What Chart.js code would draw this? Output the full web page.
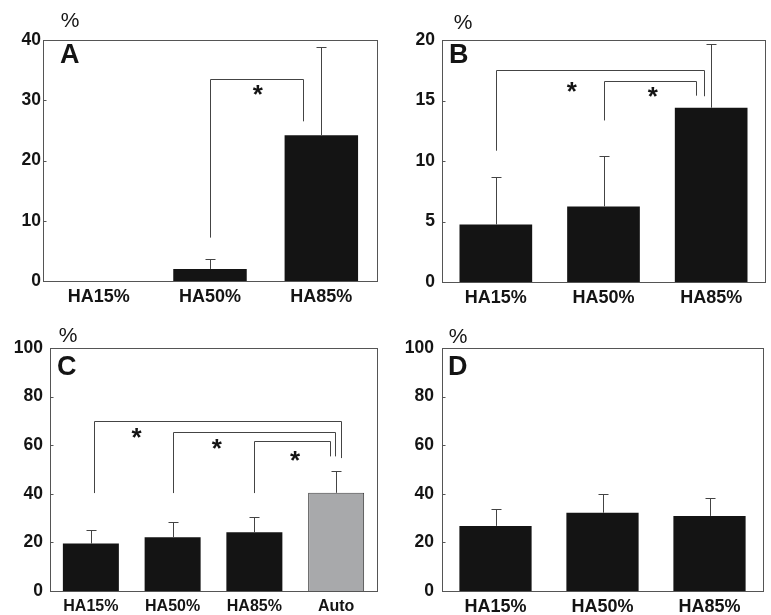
<!DOCTYPE html>
<html>
<head>
<meta charset="utf-8">
<script src="https://cdn.jsdelivr.net/npm/chart.js@4.4.1/dist/chart.umd.min.js"></script>
<style>
  body { margin: 0; background: #fff; width: 771px; height: 615px; position: relative; overflow: hidden; }
  canvas { position: absolute; }
</style>
</head>
<body>
<canvas id="chartA" width="385" height="307" style="left:0;top:0"></canvas>
<canvas id="chartB" width="386" height="307" style="left:385px;top:0"></canvas>
<canvas id="chartC" width="385" height="308" style="left:0;top:307px"></canvas>
<canvas id="chartD" width="386" height="308" style="left:385px;top:307px"></canvas>
<script>
// --- DATA ---
const cats3 = ['HA15%', 'HA50%', 'HA85%'];
const cats4 = ['HA15%', 'HA50%', 'HA85%', 'Auto'];

const valuesA = [0, 2.0, 24.2];
const errA    = [0, 1.7, 14.6];
const valuesB = [4.75, 6.25, 14.4];
const errB    = [3.95, 4.15, 5.3];
const valuesC = [19.5, 22.1, 24.2, 40.4];
const errC    = [5.7, 6.5, 6.4, 8.8];
const valuesD = [26.8, 32.2, 30.9];
const errD    = [6.9, 7.9, 7.2];

const ticksA = [0, 10, 20, 30, 40];
const ticksB = [0, 5, 10, 15, 20];
const ticksCD = [0, 20, 40, 60, 80, 100];

// significance brackets: [from category, to category, left foot, top, right foot]
const bracketsA = [[1, 1.835, 7.2, 33.5, 26.5]];
const bracketsB = [[0, 1.935, 10.85, 17.5, 15.35], [1, 1.855, 13.35, 16.65, 15.4]];
const bracketsC = [[0.04, 3.06, 40.3, 69.8, 54.7], [1, 2.99, 40.3, 65.3, 55.4], [2, 2.92, 40.3, 61.6, 55.4]];
// asterisks: [category position, value]
const starsA = [[1.43, 31.8]];
const starsB = [[0.705, 16.2], [1.458, 15.8]];
const starsC = [[0.56, 65.3], [1.54, 60.9], [2.497, 56.1]];

const FONT = "'Liberation Sans', Arial, Helvetica, sans-serif";
const INK = '#141414';
const LINE = '#444';

// --- DECORATION PLUGIN: frame, error bars, brackets, stars, labels ---
const decor = {
    id: 'decor',
    afterDatasetsDraw(chart, args, o) {
        const ctx = chart.ctx;
        const x = chart.scales.x, y = chart.scales.y;
        const area = chart.chartArea;
        ctx.save();
        ctx.strokeStyle = LINE;
        ctx.lineWidth = 1;

        // error bars (upward only, capped)
        const meta = chart.getDatasetMeta(0);
        meta.data.forEach((bar, i) => {
            const v = chart.data.datasets[0].data[i];
            const e = o.err[i];
            if (!e) return;
            const px = Math.round(bar.x) + 0.5;
            const y0 = y.getPixelForValue(v);
            const y1 = Math.round(y.getPixelForValue(v + e)) + 0.5;
            ctx.beginPath();
            ctx.moveTo(px, y0);
            ctx.lineTo(px, y1);
            ctx.moveTo(px - 5, y1);
            ctx.lineTo(px + 5, y1);
            ctx.stroke();
        });

        // brackets
        (o.brackets || []).forEach(b => {
            const xa = Math.round(x.getPixelForValue(b[0])) + 0.5;
            const xb = Math.round(x.getPixelForValue(b[1])) + 0.5;
            const yt = Math.round(y.getPixelForValue(b[3])) + 0.5;
            ctx.beginPath();
            ctx.moveTo(xa, y.getPixelForValue(b[2]));
            ctx.lineTo(xa, yt);
            ctx.lineTo(xb, yt);
            ctx.lineTo(xb, y.getPixelForValue(b[4]));
            ctx.stroke();
        });

        // stars
        ctx.fillStyle = INK;
        ctx.font = 'bold 26px ' + FONT;
        ctx.textAlign = 'center';
        ctx.textBaseline = 'alphabetic';
        (o.stars || []).forEach(s => {
            ctx.fillText('*', x.getPixelForValue(s[0]), y.getPixelForValue(s[1]) + 14);
        });

        // frame
        const l = Math.round(area.left) + 0.5, t = Math.round(area.top) + 0.5;
        const r = Math.round(area.right) + 0.5, bt = Math.round(area.bottom) + 0.5;
        ctx.strokeStyle = '#555';
        ctx.strokeRect(l, t, r - l, bt - t);

        // inward tick marks
        y.ticks.forEach((tk, i) => {
            if (i === 0 || i === y.ticks.length - 1) return;
            const ty = Math.round(y.getPixelForValue(tk.value)) + 0.5;
            ctx.beginPath();
            ctx.moveTo(l, ty);
            ctx.lineTo(l + 3, ty);
            ctx.stroke();
        });

        // panel letter and unit
        ctx.fillStyle = INK;
        ctx.textBaseline = 'middle';
        ctx.textAlign = 'left';
        ctx.font = 'bold 27px ' + FONT;
        ctx.fillText(o.letter, area.left + o.letterDx, area.top + o.letterDy);
        ctx.textAlign = 'center';
        ctx.font = '21px ' + FONT;
        ctx.fillText('%', area.left + o.pctDx, area.top + o.pctDy);
        ctx.restore();
    }
};

function makePanel(id, cats, values, errs, colors, yTicks, box, extra) {
    const canvas = document.getElementById(id);
    const W = canvas.width, H = canvas.height;
    return new Chart(canvas, {
        type: 'bar',
        data: {
            labels: cats,
            datasets: [{
                data: values,
                backgroundColor: colors,
                borderColor: colors.map(c => c === INK ? INK : '#444'),
                borderWidth: colors.map(c => c === INK ? 0 : 1),
                borderSkipped: 'bottom',
                categoryPercentage: 1,
                barPercentage: box.barPct
            }]
        },
        options: {
            responsive: false,
            animation: false,
            layout: { padding: { top: box.top, right: W - box.right, bottom: 0, left: 0 } },
            plugins: {
                legend: { display: false },
                tooltip: { enabled: false },
                decor: Object.assign({ err: errs }, extra)
            },
            scales: {
                x: {
                    grid: { display: false, drawTicks: false },
                    border: { display: false },
                    ticks: { color: INK, padding: box.xPad, font: { family: FONT, size: box.xFont, weight: 'bold' }, maxRotation: 0 },
                    afterFit: s => { s.height = H - box.bottom; }
                },
                y: {
                    min: 0,
                    max: yTicks[yTicks.length - 1],
                    grid: { display: false, drawTicks: false },
                    border: { display: false },
                    afterBuildTicks: s => { s.ticks = yTicks.map(v => ({ value: v })); },
                    ticks: { color: INK, padding: box.yPad, font: { family: FONT, size: 17.5, weight: 'bold' } },
                    afterFit: s => { s.width = box.left; }
                }
            }
        },
        plugins: [decor]
    });
}

makePanel('chartA', cats3, valuesA, errA, [INK, INK, INK], ticksA,
    { left: 43, top: 40, right: 377, bottom: 281, barPct: 0.66, xPad: 5, xFont: 18, yPad: 2 },
    { brackets: bracketsA, stars: starsA, letter: 'A', letterDx: 17, letterDy: 16, pctDx: 27, pctDy: -19 });

makePanel('chartB', cats3, valuesB, errB, [INK, INK, INK], ticksB,
    { left: 57, top: 40, right: 380, bottom: 282, barPct: 0.675, xPad: 5, xFont: 18, yPad: 7 },
    { brackets: bracketsB, stars: starsB, letter: 'B', letterDx: 7, letterDy: 16, pctDx: 21, pctDy: -17 });

makePanel('chartC', cats4, valuesC, errC, [INK, INK, INK, '#a8a9ab'], ticksCD,
    { left: 50, top: 41, right: 377, bottom: 284, barPct: 0.685, xPad: 6, xFont: 16, yPad: 7 },
    { brackets: bracketsC, stars: starsC, letter: 'C', letterDx: 7, letterDy: 20, pctDx: 18, pctDy: -12 });

makePanel('chartD', cats3, valuesD, errD, [INK, INK, INK], ticksCD,
    { left: 57, top: 41, right: 378, bottom: 284, barPct: 0.675, xPad: 5, xFont: 18, yPad: 8 },
    { letter: 'D', letterDx: 6, letterDy: 20, pctDx: 16, pctDy: -11 });
</script>
</body>
</html>
